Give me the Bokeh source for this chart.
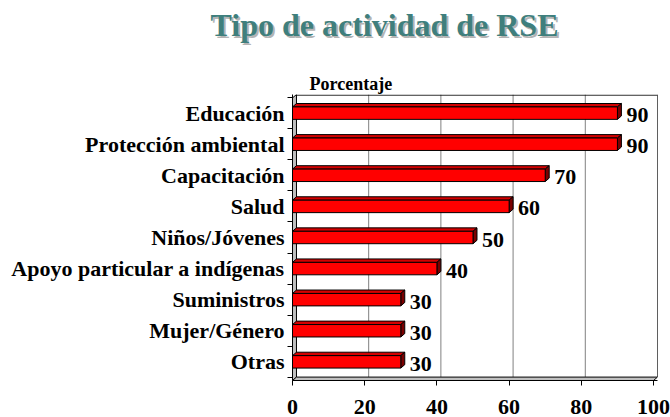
from bokeh.plotting import figure
from bokeh.layouts import column
from bokeh.models import FixedTicker, Range1d
from bokeh.core.properties import value
from bokeh.embed import file_html
from bokeh.resources import INLINE

categories = ["Educación", "Protección ambiental", "Capacitación", "Salud",
              "Niños/Jóvenes", "Apoyo particular a indígenas", "Suministros",
              "Mujer/Género", "Otras"]
values = [90, 90, 70, 60, 50, 40, 30, 30, 30]
x_ticks = [0, 20, 40, 60, 80, 100]
title_text = "Tipo de actividad de RSE"
axis_title = "Porcentaje"

FONT = "Liberation Serif"
W, H = 670, 417
HEAD = 94                 # height of the heading strip

# ---------- heading strip (title with shadow, axis title) ----------
t = figure(width=W, height=HEAD, output_backend="svg", toolbar_location=None,
           x_range=Range1d(0, W), y_range=Range1d(HEAD, 0),
           x_axis_type=None, y_axis_type=None,
           min_border=0, outline_line_color=None)
t.frame_align = False
t.grid.visible = False
t.text(x=[386], y=[26], text=[title_text], text_align="center", text_baseline="middle",
       text_font=value(FONT), text_font_style="bold", text_font_size="32px", text_color="#b4b4b4")
t.text(x=[384], y=[24], text=[title_text], text_align="center", text_baseline="middle",
       text_font=value(FONT), text_font_style="bold", text_font_size="32px", text_color="#3f7f7d")
t.text(x=[309], y=[83], text=[axis_title], text_align="left", text_baseline="middle",
       text_font=value(FONT), text_font_style="bold", text_font_size="18px", text_color="black")

# ---------- main chart ----------
n = len(categories)
ys = [n - 1 - i for i in range(n)]
dx, dy = 1.1, 0.11       # 3-D depth in data units
h = 0.40                 # bar face height
y0, y1 = -0.6, n - 0.4   # y range
x1 = x_ticks[-1] + dx

p = figure(width=W, height=H - HEAD, output_backend="svg", toolbar_location=None,
           x_range=Range1d(0, x1), y_range=Range1d(y0, y1),
           min_border_left=292, min_border_right=13, min_border_top=0, min_border_bottom=37)
p.frame_align = False
p.outline_line_color = None
p.xgrid.visible = False
p.ygrid.visible = False

# back plane grid lines and borders
gx = [v + dx for v in x_ticks[1:]]
p.segment(x0=gx, y0=[y0 + dy] * len(gx), x1=gx, y1=[y1] * len(gx),
          line_color="#808080", line_width=1)
p.segment(x0=[x_ticks[-1] + dx], y0=[y0 + dy], x1=[x_ticks[-1] + dx], y1=[y1],
          line_color="black", line_width=1)
p.segment(x0=[dx], y0=[y1 - 0.02], x1=[x1], y1=[y1 - 0.02], line_color="black", line_width=1)

# left wall and floor
p.patch(x=[0, dx, dx, 0], y=[y0, y0 + dy, y1, y1 - dy], fill_color="#c0c0c0",
        line_color="black", line_width=1)
p.patch(x=[0, x_ticks[-1], x_ticks[-1] + dx, dx], y=[y0, y0, y0 + dy, y0 + dy],
        fill_color="#c0c0c0", line_color="black", line_width=1)

# bars: top bevel, right side, face
top_xs = [[0, v, v + dx, dx] for v in values]
top_ys = [[y + h / 2, y + h / 2, y + h / 2 + dy, y + h / 2 + dy] for y in ys]
side_xs = [[v, v + dx, v + dx, v] for v in values]
side_ys = [[y - h / 2, y - h / 2 + dy, y + h / 2 + dy, y + h / 2] for y in ys]
p.patches(xs=top_xs, ys=top_ys, fill_color="#d40000", line_color="black", line_width=1)
p.patches(xs=side_xs, ys=side_ys, fill_color="#7a0000", line_color="black", line_width=1)
p.hbar(y=ys, left=0, right=values, height=h, fill_color="#ff0000",
       line_color="black", line_width=1)

# value labels
p.text(x=[v + dx for v in values], y=ys, text=[str(v) for v in values],
       x_offset=5, y_offset=2, text_baseline="middle", text_align="left",
       text_font=value(FONT), text_font_style="bold", text_font_size="22px",
       text_color="black")

# axes
p.xaxis.ticker = FixedTicker(ticks=x_ticks)
p.xaxis.axis_line_color = "black"
p.xaxis.major_tick_line_color = "black"
p.xaxis.major_tick_out = 5
p.xaxis.major_tick_in = 0
p.xaxis.minor_tick_line_color = None
p.xaxis.major_label_standoff = 14
p.xaxis.major_label_text_line_height = 0.6
p.xaxis.major_label_text_font = FONT
p.xaxis.major_label_text_font_style = "bold"
p.xaxis.major_label_text_font_size = "22px"
p.xaxis.major_label_text_color = "black"

bounds = [i - 0.5 for i in range(n + 1)]
p.yaxis.ticker = FixedTicker(ticks=ys, minor_ticks=bounds)
p.yaxis.major_label_overrides = {y: c for y, c in zip(ys, categories)}
p.yaxis.axis_line_color = "black"
p.yaxis.major_tick_line_color = None
p.yaxis.minor_tick_line_color = "black"
p.yaxis.minor_tick_out = 5
p.yaxis.minor_tick_in = 0
p.yaxis.major_label_standoff = 2
p.yaxis.major_label_text_font = FONT
p.yaxis.major_label_text_font_style = "bold"
p.yaxis.major_label_text_font_size = "22px"
p.yaxis.major_label_text_color = "black"

layout = column(t, p, spacing=0)
open("out.html", "w").write(file_html(layout, INLINE))
